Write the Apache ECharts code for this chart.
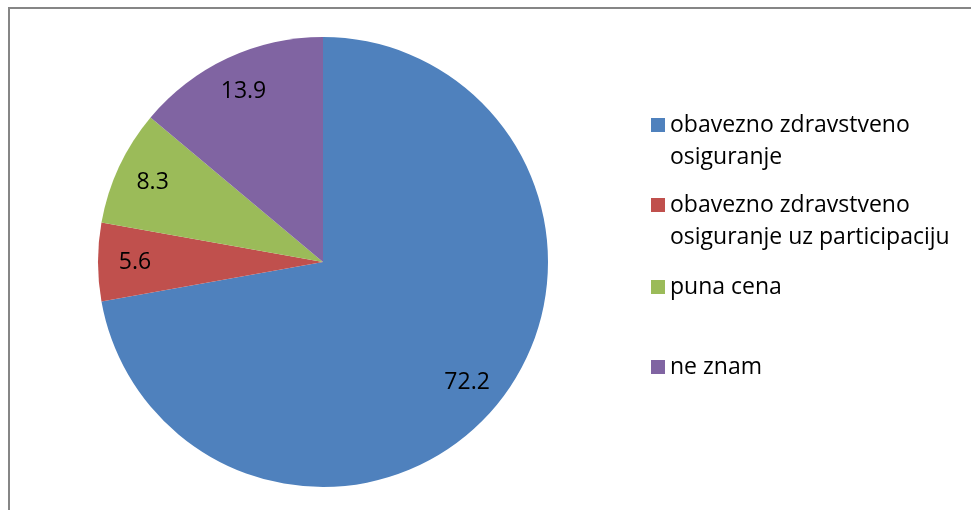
<!DOCTYPE html>
<html>
<head>
<meta charset="utf-8">
<script src="https://cdn.jsdelivr.net/npm/echarts@6/dist/echarts.min.js"></script>
<style>
  html, body { margin: 0; padding: 0; background: #ffffff; }
  #chart { width: 971px; height: 510px; }
</style>
</head>
<body>
<div id="chart"></div>
<script>
// Categories (payment type) and their shares in percent
const categories = [
  'obavezno zdravstveno osiguranje',
  'obavezno zdravstveno osiguranje uz participaciju',
  'puna cena',
  'ne znam'
];
const values = [72.2, 5.6, 8.3, 13.9];
// Legend text, wrapped as it is shown
const legendLines = [
  ['obavezno zdravstveno', 'osiguranje'],
  ['obavezno zdravstveno', 'osiguranje uz participaciju'],
  ['puna cena'],
  ['ne znam']
];
const colors = ['#4F81BD', '#C0504D', '#9BBB59', '#8064A2'];

const FONT = '"Open Sans", "Noto Sans", sans-serif';
const CENTER = [323, 262];
const RADIUS = 225;

const pieData = categories.map((name, i) => ({ name: name, value: values[i] }));

// One legend block per category. Two-line entries get a blank line on top so
// the vertically centred icon lines up with the first line of text.
const legendTops = [77, 157, 271, 351];
const legends = categories.map((name, i) => {
  const lines = legendLines[i];
  const text = lines.length > 1 ? ['\u00a0'].concat(lines).join('\n') : lines[0];
  return {
    data: [name],
    orient: 'vertical',
    left: 651,
    top: legendTops[i],
    padding: 0,
    itemWidth: 14,
    itemHeight: 14,
    icon: 'rect',
    selectedMode: false,
    formatter: () => text,
    textStyle: {
      fontFamily: FONT,
      fontSize: 23,
      color: '#000000',
      lineHeight: 32
    }
  };
});

const chart = echarts.init(document.getElementById('chart'), null, { renderer: 'canvas' });
chart.setOption({
  animation: false,
  backgroundColor: '#ffffff',
  color: colors,
  legend: legends,
  graphic: [{
    type: 'rect',
    silent: true,
    shape: { x: 9, y: 8, width: 1000, height: 600 },
    style: { fill: 'none', stroke: '#868686', lineWidth: 2 }
  }],
  series: [
    {
      name: 'udeo',
      type: 'pie',
      center: CENTER,
      radius: RADIUS,
      startAngle: 90,
      clockwise: true,
      silent: true,
      label: { show: false },
      labelLine: { show: false },
      itemStyle: { borderWidth: 0 },
      data: pieData
    },
    {
      // Invisible twin pie that only carries the value labels further out
      name: 'oznake',
      type: 'pie',
      center: CENTER,
      radius: [0, 370],
      startAngle: 90,
      clockwise: true,
      silent: true,
      avoidLabelOverlap: false,
      itemStyle: { color: 'rgba(0,0,0,0)', borderWidth: 0 },
      label: {
        show: true,
        position: 'inside',
        formatter: (p) => p.value.toFixed(1),
        fontFamily: FONT,
        fontSize: 23,
        color: '#000000'
      },
      labelLine: { show: false },
      data: pieData
    }
  ]
});
</script>
</body>
</html>
